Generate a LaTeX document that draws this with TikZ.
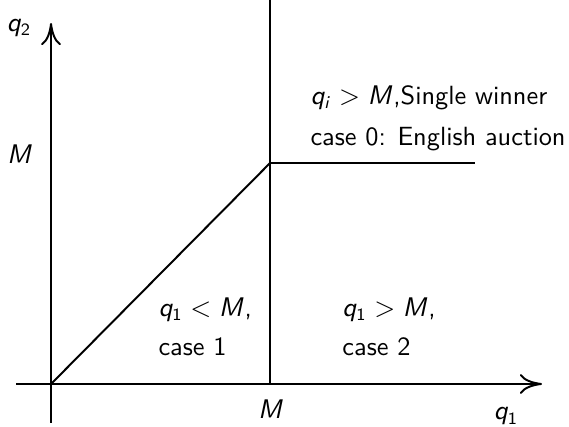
\documentclass[tikz,border=0pt]{standalone}
\usetikzlibrary{arrows.meta}

% sans serif italic letters in math, as in slides
\DeclareSymbolFont{sfletters}{OT1}{cmss}{m}{sl}
\DeclareSymbolFont{sfdigits}{OT1}{cmss}{m}{n}
\DeclareMathSymbol{q}{\mathalpha}{sfletters}{`q}
\DeclareMathSymbol{i}{\mathalpha}{sfletters}{`i}
\DeclareMathSymbol{M}{\mathalpha}{sfletters}{`M}
\DeclareMathSymbol{1}{\mathalpha}{sfdigits}{`1}
\DeclareMathSymbol{2}{\mathalpha}{sfdigits}{`2}

\tikzset{
  axis/.style={thick, -{To[length=9pt,width=8pt]}},
  border/.style={thick},
  lbl/.style={inner sep=0pt, anchor=base},
  txt/.style={inner sep=0pt, anchor=base west}
}

\begin{document}
\begin{tikzpicture}[font=\sffamily\fontsize{10.7}{13}\selectfont]
  \useasboundingbox (-0.729,-0.614) rectangle (7.4,5.486);

  % points of the frame
  \coordinate (O) at (0,0);
  \coordinate (xs) at (-0.5,0);
  \coordinate (xe) at (7.014,0);
  \coordinate (ys) at (0,-0.557);
  \coordinate (ye) at (0,5.157);
  \coordinate (Mq) at (3.129,3.157);
  \coordinate (Mtop) at (3.129,5.486);
  \coordinate (Mbot) at (3.129,0);
  \coordinate (Mend) at (6.057,3.157);

  % axes
  \draw[axis] (xs) -- (xe);
  \draw[axis] (ys) -- (ye);

  % region borders
  \draw[border] (Mbot) -- (Mtop);
  \draw[border] (O) -- (Mq);
  \draw[border] (Mq) -- (Mend);

  % axis labels
  \node[lbl] (lq2) at (-0.457,5.03) {$q_2$};
  \node[lbl] (lq1) at (6.5,-0.514) {$q_1$};
  \node[lbl] (lMy) at (-0.443,3.157) {$M$};
  \node[lbl] (lMx) at (3.143,-0.486) {$M$};

  % region texts
  \node[txt] (win) at (3.7,4.0) {$q_i>M$,Single winner};
  \node[txt] (eng) at (3.7,3.414) {case 0: English auction};
  \node[txt] (low) at (1.529,0.971) {$q_1<M$,};
  \node[txt] (cone) at (1.529,0.414) {case 1};
  \node[txt] (high) at (4.157,0.971) {$q_1>M$,};
  \node[txt] (ctwo) at (4.157,0.414) {case 2};
\end{tikzpicture}
\end{document}
